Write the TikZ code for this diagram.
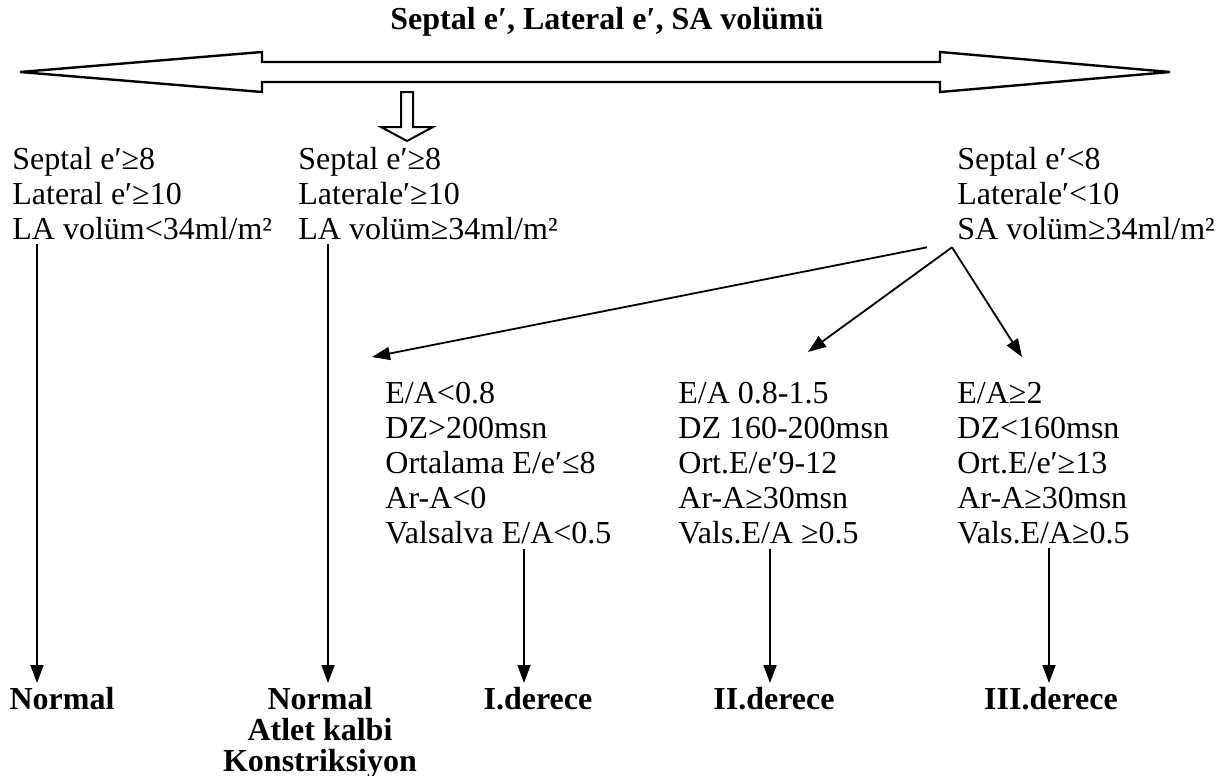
\documentclass[tikz,border=0pt]{standalone}
\usepackage{fontspec}
\setmainfont{Liberation Serif}
\usetikzlibrary{arrows.meta, positioning, calc}

\begin{document}
\begin{tikzpicture}[x=0.5pt, y=-0.5pt,
    metin/.style={anchor=north west, align=left, inner sep=0pt, font=\fontsize{16}{17.5}\selectfont},
    sonuc/.style={anchor=north, align=center, inner sep=2pt, font=\fontsize{16}{15.5}\selectfont\bfseries},
    ok/.style={-{Triangle[length=9pt, width=6.5pt]}, line width=0.9pt},
    blok/.style={draw, line width=1.2pt, fill=white, line join=miter}]
    \useasboundingbox (0,0) rectangle (1227,776);

    % başlık
    \node[sonuc, anchor=center] (baslik) at (607,22) {Septal e′, Lateral e′, SA volümü};

    % çift yönlü ok
    \draw[blok] (20,72) -- (262,52) -- (262,62) -- (940,62) -- (940,52) -- (1170,72)
        -- (940,92) -- (940,82) -- (262,82) -- (262,92) -- cycle;
    \draw[blok, line width=1pt] (401,92) -- (413,92) -- (413,127) -- (433,127) -- (407,141)
        -- (381,127) -- (401,127) -- cycle;

    % ilk kriterler
    \node[metin] (n1) at (12,147) {Septal e′≥8\\Lateral e′≥10\\LA volüm<34ml/m²};
    \node[metin] (n2) at (298,147) {Septal e′≥8\\Laterale′≥10\\LA volüm≥34ml/m²};
    \node[metin] (n3) at (957,147) {Septal e′<8\\Laterale′<10\\SA volüm≥34ml/m²};

    % derece kriterleri
    \node[metin] (n4) at (385,382) {E/A<0.8\\DZ>200msn\\Ortalama E/e′≤8\\Ar-A<0\\Valsalva E/A<0.5};
    \node[metin] (n5) at (678,382) {E/A 0.8-1.5\\DZ 160-200msn\\Ort.E/e′9-12\\Ar-A≥30msn\\Vals.E/A ≥0.5};
    \node[metin] (n6) at (957,382) {E/A≥2\\DZ<160msn\\Ort.E/e′≥13\\Ar-A≥30msn\\Vals.E/A≥0.5};

    % sonuçlar
    \node[sonuc] (s1) at (62,683) {Normal};
    \node[sonuc] (s2) at (320,683) {Normal\\Atlet kalbi\\Konstriksiyon};
    \node[sonuc] (s3) at (538,683) {I.derece};
    \node[sonuc] (s4) at (774,683) {II.derece};
    \node[sonuc] (s5) at (1051,683) {III.derece};

    % oklar
    \draw[ok] ([yshift=-2pt]37,0 |- n1.south) -- (37,0 |- s1.north);
    \draw[ok] ([yshift=-2pt]328,0 |- n2.south) -- (328,0 |- s2.north);
    \draw[ok] ([shift={(-30,7)}]n3.south west) -- ([shift={(-13,-25)}]n4.north west);
    \draw[ok] ([shift={(-5,7)}]n3.south west) -- ([shift={(130,-30)}]n5.north west);
    \draw[ok] ([shift={(-5,7)}]n3.south west) -- ([shift={(65,-25)}]n6.north west);
    \draw[ok] ([yshift=-2pt]524,0 |- n4.south) -- (524,0 |- s3.north);
    \draw[ok] ([yshift=-2pt]770,0 |- n5.south) -- (770,0 |- s4.north);
    \draw[ok] ([yshift=-2pt]1049,0 |- n6.south) -- (1049,0 |- s5.north);
\end{tikzpicture}
\end{document}
